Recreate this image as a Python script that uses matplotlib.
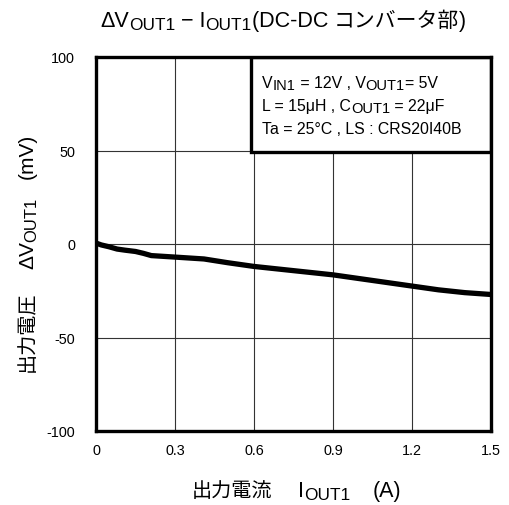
import matplotlib
matplotlib.use("Agg")
import matplotlib.pyplot as plt
from matplotlib.patches import Rectangle
from matplotlib.transforms import IdentityTransform

plt.rcParams['font.family'] = ['Liberation Sans', 'Noto Sans CJK JP', 'DejaVu Sans']
plt.rcParams['axes.unicode_minus'] = False

current_a = [0, 0.02, 0.05, 0.08, 0.11, 0.15, 0.18, 0.21, 0.3, 0.41, 0.5,
             0.6, 0.7, 0.8, 0.9, 1.0, 1.1, 1.2, 1.3, 1.4, 1.5]
dvout_mv = [0.5, -0.5, -1.5, -2.7, -3.3, -4.0, -5.0, -6.2, -7.0, -8.0, -10.0,
            -12.0, -13.5, -15.0, -16.5, -18.5, -20.5, -22.5, -24.5, -26.0, -27.0]
xticks = [0, 0.3, 0.6, 0.9, 1.2, 1.5]
xticklabels = ['0', '0.3', '0.6', '0.9', '1.2', '1.5']
yticks = [-100, -50, 0, 50, 100]

W, H = 510, 506
fig = plt.figure(figsize=(W/100, H/100), dpi=100)
ax = fig.add_axes([96/W, 1-432/H, 395/W, 374/H])

ax.plot(current_a, dvout_mv, color='black', lw=3.8, solid_capstyle='butt', zorder=3)

ax.set_xlim(0, 1.5)
ax.set_ylim(-100, 100)
ax.set_xticks(xticks)
ax.set_xticklabels(xticklabels)
ax.set_yticks(yticks)
ax.grid(True, color='#333333', lw=0.8)
ax.tick_params(length=0, labelsize=10.4)
ax.tick_params(axis='x', pad=9)
ax.tick_params(axis='y', pad=15)
for s in ax.spines.values():
    s.set_linewidth(2.4)
    s.set_zorder(5)

renderer = fig.canvas.get_renderer()


def rich(pieces, x, y, rotation=0):
    """Lay out pieces left to right (or bottom to top when rotated).
    pieces: (text, fontsize, dy_px), (None, absolute_start_px) or ('gap', px).
    x, y in pixels with y measured from the top of the figure."""
    yd = H - y
    pos = x if rotation == 0 else yd
    for p in pieces:
        if p[0] is None:
            pos = p[1] if rotation == 0 else H - p[1]
            continue
        if p[0] == 'gap':
            pos += p[1]
            continue
        s, fs, dy = p
        if rotation == 0:
            t = fig.text(pos, yd - dy, s, fontsize=fs, ha='left', va='baseline',
                         transform=IdentityTransform(), zorder=10)
            pos = t.get_window_extent(renderer).x1
        else:
            t = fig.text(x + dy, pos, s, fontsize=fs, ha='left', va='baseline',
                         rotation=90, rotation_mode='anchor',
                         transform=IdentityTransform(), zorder=10)
            pos = t.get_window_extent(renderer).y1


LAT = 15.5
SUB = 12.4
CJK = 15

# title
rich([('ΔV', LAT, 0), ('OUT1', SUB, 3.5), (' − I', LAT, 0), ('OUT1', SUB, 3.5),
      ('(DC-DC ', LAT, 0), ('コンバータ部', CJK, 0), (')', LAT, 0)], 100, 27)
# x label
rich([('出力電流', 14.5, 0), (None, 298), ('I', LAT, 0), ('OUT1', SUB, 3.5),
      (None, 373), ('(A)', LAT, 0)], 192, 497)
# y label
rich([('出力電圧', 14.5, 0), ('gap', 22), ('ΔV', 15, 0), ('OUT1', 12, 3.5),
      ('gap', 18), ('(mV)', 15, 0)], 33, 372, rotation=90)

# info box
x0 = (251-96)/395
y0 = (432-153)/374
ax.add_patch(Rectangle((x0, y0), 1-x0, 1-y0, transform=ax.transAxes,
                       facecolor='white', edgecolor='black', lw=2.4, zorder=4))
IF = 11.4
ISUB = 10.5
rich([('V', IF, 0), ('IN1', ISUB, 2.5), (' = 12V , V', IF, 0), ('OUT1', ISUB, 2.5),
      ('= 5V', IF, 0)], 262, 88)
rich([('L = 15μH , C', IF, 0), ('OUT1', ISUB, 2.5), (' = 22μF', IF, 0)], 262, 111)
rich([('Ta = 25°C , LS : CRS20I40B', IF, 0)], 262, 134)

fig.savefig('out.png', dpi=100)
